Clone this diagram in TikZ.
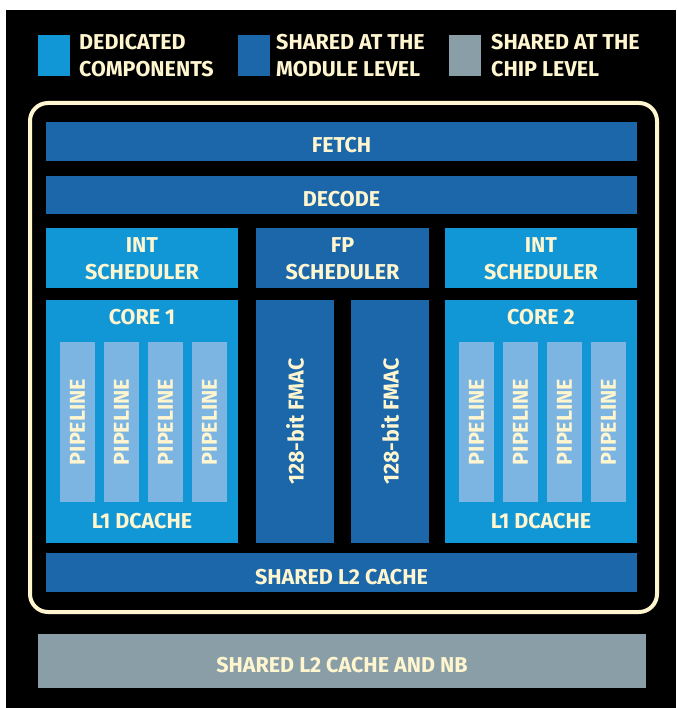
\documentclass[tikz,border=0pt]{standalone}
\usepackage{fontspec}
\setmainfont{Fira Sans}
\definecolor{dedblue}{HTML}{1297D6}
\definecolor{modblue}{HTML}{1B67AA}
\definecolor{chipgray}{HTML}{8A9EA8}
\definecolor{pipeblue}{HTML}{7DB5E2}
\definecolor{cream}{HTML}{FFF6CF}
\begin{document}
\begin{tikzpicture}[x=1pt,y=-1pt,
  blk/.style={inner sep=0pt, text=cream, align=center, font=\bfseries\fontsize{21.5}{27}\selectfont},
  ded/.style={blk, fill=dedblue, text height=23pt, text depth=0pt},
  mod/.style={blk, fill=modblue, text height=23pt, text depth=0pt},
  chip/.style={blk, fill=chipgray, text height=23pt, text depth=0pt},
  twoline/.style={text height=42pt},
  pipe/.style={blk, fill=pipeblue, minimum width=35, minimum height=160},
  lbl/.style={blk, fill=none},
  legtxt/.style={lbl, anchor=west, align=left}]
  \fill[white] (0,0) rectangle (676,708);
  \fill[black] (6,10) rectangle (676,708);
  \node[ded, minimum width=32, minimum height=41] (legded) at (54,55.5) {};
  \node[legtxt] (legdedtxt) at (79,55.5) {DEDICATED\\COMPONENTS};
  \node[mod, minimum width=32, minimum height=41] (legmod) at (254,55.5) {};
  \node[legtxt] (legmodtxt) at (276,55.5) {SHARED AT THE\\MODULE LEVEL};
  \node[chip, minimum width=32, minimum height=41] (legchip) at (465,55.5) {};
  \node[legtxt] (legchiptxt) at (491,55.5) {SHARED AT THE\\CHIP LEVEL};
  \draw[cream, line width=4pt, rounded corners=18pt] (30,103) rectangle (657,612);
  \node[mod, minimum width=591, minimum height=39] (fetch) at (341.5,141.5) {FETCH};
  \node[mod, minimum width=591, minimum height=38] (decode) at (341.5,195) {DECODE};
  \node[ded, twoline, minimum width=192, minimum height=60] (int1) at (142,258) {INT\\SCHEDULER};
  \node[mod, twoline, minimum width=173, minimum height=60] (fpsched) at (342.5,258) {FP\\SCHEDULER};
  \node[ded, twoline, minimum width=192, minimum height=60] (int2) at (541,258) {INT\\SCHEDULER};
  \node[ded, minimum width=192, minimum height=243] (core1) at (142,421.5) {};
  \node[mod, text height=, minimum width=78, minimum height=243] (fmac1) at (295,421.5) {\rotatebox{90}{128-bit FMAC}};
  \node[mod, text height=, minimum width=78, minimum height=243] (fmac2) at (390,421.5) {\rotatebox{90}{128-bit FMAC}};
  \node[ded, minimum width=192, minimum height=243] (core2) at (541,421.5) {};
  \node[lbl] (core1lbl) at (142,317) {CORE 1};
  \node[lbl] (l1one) at (142,521) {L1 DCACHE};
  \node[lbl] (core2lbl) at (541,317) {CORE 2};
  \node[lbl] (l1two) at (541,521) {L1 DCACHE};
  \foreach \i in {0,...,3} {
    \node[pipe] (pipea\i) at (77.5+44*\i,422) {\rotatebox{90}{PIPELINE}};
    \node[pipe] (pipeb\i) at (476.5+44*\i,422) {\rotatebox{90}{PIPELINE}};
  }
  \node[mod, minimum width=591, minimum height=39] (l2) at (341.5,572.5) {SHARED L2 CACHE};
  \node[chip, minimum width=608, minimum height=54] (nb) at (342,661) {SHARED L2 CACHE AND NB};
\end{tikzpicture}
\end{document}
